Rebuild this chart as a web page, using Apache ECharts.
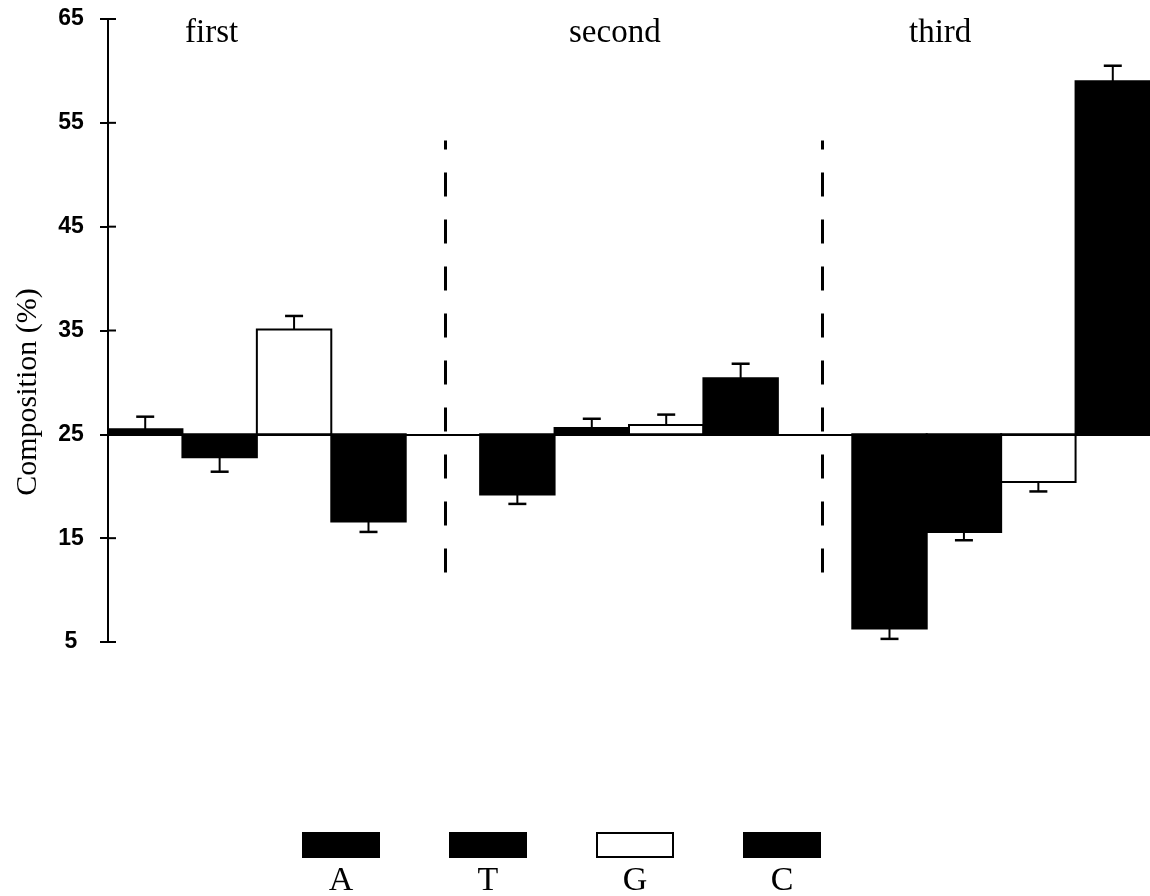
<!DOCTYPE html>
<html>
<head>
<meta charset="utf-8">
<title>Composition</title>
<script src="https://cdn.jsdelivr.net/npm/echarts@6/dist/echarts.min.js"></script>
<style>
  html, body { margin: 0; padding: 0; background: #fff; }
  #chart { width: 1150px; height: 896px; }
</style>
</head>
<body>
<div id="chart"></div>
<script>
// codon positions and nucleotides
const groups = ['first', 'second', 'third']
const bases = ['A', 'T', 'G', 'C']
const yTicks = [5, 15, 25, 35, 45, 55, 65]
const baseline = 25

// composition (%) per codon position
const aValues = [25.5, 19.2, 6.3]
const tValues = [22.8, 25.6, 15.6]
const gValues = [35.1, 25.9, 20.4]
const cValues = [16.6, 30.4, 59.0]

// error bar lengths
const aErrors = [1.2, 0.9, 1.0]
const tErrors = [1.4, 0.9, 0.8]
const gErrors = [1.3, 1.0, 0.9]
const cErrors = [1.0, 1.4, 1.5]

// dashed separators between codon positions (x slot, y range)
const separators = [4.53, 9.6]
const separatorRange = [11.7, 53.3]

const values = [aValues, tValues, gValues, cValues]
const errors = [aErrors, tErrors, gErrors, cErrors]
const fills = ['#000', '#000', '#fff', '#000']

const serif = 'Liberation Serif'
const slotsPerGroup = bases.length + 1

function makeSeries(bi) {
  const fill = fills[bi]
  return {
    name: bases[bi],
    type: 'custom',
    data: groups.map((g, gi) => [gi * slotsPerGroup + bi, values[bi][gi], errors[bi][gi]]),
    renderItem(params, api) {
      const slot = api.value(0)
      const val = api.value(1)
      const err = api.value(2)
      const p0 = api.coord([slot, baseline])
      const p1 = api.coord([slot + 1, val])
      const dir = val >= baseline ? 1 : -1
      const mid = api.coord([slot + 0.5, val])
      const tip = api.coord([slot + 0.5, val + dir * err])
      return {
        type: 'group',
        children: [
          {
            type: 'rect',
            shape: { x: p0[0], y: Math.min(p0[1], p1[1]), width: p1[0] - p0[0], height: Math.abs(p1[1] - p0[1]) },
            style: { fill: fill, stroke: '#000', lineWidth: 2 }
          },
          {
            type: 'line',
            shape: { x1: mid[0], y1: mid[1], x2: tip[0], y2: tip[1] },
            style: { stroke: '#000', lineWidth: 2 }
          },
          {
            type: 'line',
            shape: { x1: tip[0] - 9, y1: tip[1], x2: tip[0] + 9, y2: tip[1] },
            style: { stroke: '#000', lineWidth: 2.5 }
          }
        ]
      }
    }
  }
}

// short ticks on the inner side of the y axis
const innerTicks = {
  type: 'custom',
  silent: true,
  data: yTicks.map(t => [0, t]),
  renderItem(params, api) {
    const p = api.coord([0, api.value(1)])
    return {
      type: 'line',
      shape: { x1: p[0], y1: p[1], x2: p[0] + 8, y2: p[1] },
      style: { stroke: '#000', lineWidth: 2 }
    }
  }
}

// legend drawn as boxes with the letter underneath
const legendItems = []
bases.forEach((b, i) => {
  const x = 303 + i * 147
  legendItems.push({
    type: 'rect',
    shape: { x: x, y: 833, width: 76, height: 24 },
    style: { fill: fills[i], stroke: '#000', lineWidth: 2 }
  })
  legendItems.push({
    type: 'text',
    x: x + 38,
    y: 881,
    style: { text: b, font: '34px "' + serif + '"', fill: '#000', align: 'center', verticalAlign: 'middle' }
  })
})

const groupLabelX = [185, 569, 909]
const groupLabels = groups.map((g, i) => ({
  type: 'text',
  x: groupLabelX[i],
  y: 33,
  style: { text: g, font: '33px "' + serif + '"', fill: '#000', align: 'left', verticalAlign: 'middle' }
}))

const chart = echarts.init(document.getElementById('chart'))

chart.setOption({
  animation: false,
  grid: { left: 108, right: 0, top: 19, bottom: 254 },
  xAxis: {
    type: 'value',
    min: 0,
    max: groups.length * slotsPerGroup - 1,
    show: false
  },
  yAxis: {
    type: 'value',
    min: yTicks[0],
    max: yTicks[yTicks.length - 1],
    interval: 10,
    splitLine: { show: false },
    axisLine: { show: true, lineStyle: { color: '#000', width: 2 } },
    axisTick: { show: true, length: 8, lineStyle: { color: '#000', width: 2 } },
    axisLabel: {
      margin: 37,
      align: 'center',
      color: '#000',
      fontFamily: 'Liberation Sans',
      fontWeight: 'bold',
      fontSize: 23
    }
  },
  series: [
    {
      type: 'line',
      data: [],
      silent: true,
      markLine: {
        silent: true,
        symbol: ['none', 'none'],
        label: { show: false },
        data: [
          { yAxis: baseline, lineStyle: { color: '#000', width: 2, type: 'solid' } }
        ].concat(separators.map(s => [
          { coord: [s, separatorRange[0]], lineStyle: { color: '#000', width: 3, type: [24, 23] } },
          { coord: [s, separatorRange[1]] }
        ]))
      }
    },
    innerTicks
  ].concat(bases.map((b, i) => makeSeries(i))),
  graphic: [
    {
      type: 'text',
      x: 28,
      y: 392,
      rotation: Math.PI / 2,
      style: { text: 'Composition (%)', font: '30px "' + serif + '"', fill: '#000', align: 'center', verticalAlign: 'middle' }
    }
  ].concat(groupLabels, legendItems)
})
</script>
</body>
</html>
